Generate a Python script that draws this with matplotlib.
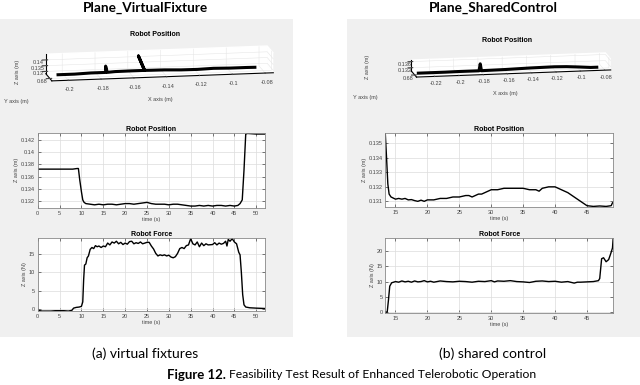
import numpy as np
import matplotlib
matplotlib.use('Agg')
import matplotlib.pyplot as plt
from matplotlib.patches import Rectangle
from mpl_toolkits.mplot3d import Axes3D  # noqa: F401

plt.rcParams['font.family'] = ['Liberation Sans', 'DejaVu Sans']

# --- (a) virtual fixtures: z position over time
vf_t = [0, 2, 4, 6, 8, 9, 9.3, 9.6, 10.0, 10.3, 10.6, 11, 12, 13, 14, 15, 16, 17, 18, 19,
        20, 21, 22, 23, 24, 25, 26, 27, 28, 29, 30, 31, 32, 33, 34, 35, 36, 37, 38, 39,
        40, 41, 42, 43, 44, 45, 45.8, 46.3, 46.8, 47.2, 47.6, 48, 50, 52]
vf_z = [0.1372, 0.1372, 0.1372, 0.1372, 0.1372, 0.1373, 0.1373, 0.1355, 0.1335, 0.1322,
        0.1318, 0.1316, 0.1315, 0.1314, 0.1315, 0.1314, 0.1315, 0.1315, 0.1314, 0.1315,
        0.1316, 0.1316, 0.1315, 0.1316, 0.1317, 0.1318, 0.1316, 0.1315, 0.1315, 0.1315,
        0.1314, 0.1315, 0.1315, 0.1314, 0.1313, 0.1312, 0.1312, 0.1313, 0.1312, 0.1313,
        0.1312, 0.1313, 0.1313, 0.1312, 0.1313, 0.1312, 0.1313, 0.1316, 0.1322, 0.1370,
        0.1429, 0.1430, 0.1429, 0.1429]

# --- (a) virtual fixtures: z force over time
vf_ft = [0, 0.5, 1, 2, 3, 4, 5, 6, 7, 7.8, 8.2, 8.8, 9.5, 10.0, 10.3, 10.5, 10.7, 11.0,
         11.3, 11.6, 12.0, 12.4, 12.8, 13.2, 13.6, 14, 14.5, 15, 15.5, 16, 16.5, 17, 17.5,
         18, 18.5, 19, 19.5, 20, 20.5, 21, 21.5, 22, 22.5, 23, 23.5, 24, 24.5, 25, 25.5,
         26, 26.5, 27, 27.5, 28, 28.5, 29, 29.5, 30, 30.5, 31, 31.5, 32, 32.5, 33, 33.5,
         34, 34.5, 35, 35.5, 36, 36.5, 37, 37.5, 38, 38.5, 39, 40, 40.5, 41, 41.5, 42,
         42.5, 43, 43.3, 43.6, 44, 44.5, 45, 45.5, 46, 46.3, 46.6, 46.9, 47.2, 47.6, 48.5,
         50, 52]
vf_f = [-0.2, -0.4, -0.5, -0.5, -0.5, -0.4, -0.4, -0.4, -0.5, -0.3, 0.3, 0.5, 0.6, 0.8,
        2, 8, 12, 12.3, 14, 14.5, 16.3, 16.8, 16.5, 17.3, 17.0, 17.2, 16.8, 17.2, 17.0,
        18.0, 17.5, 18.3, 18.0, 18.5, 17.8, 18.2, 17.6, 18.0, 17.7, 18.4, 18.5, 17.8, 18.1,
        17.9, 18.3, 17.8, 18.0, 18.2, 18.2, 17.2, 16.4, 15.2, 14.5, 14.8, 14.6, 14.8, 14.5,
        14.7, 14.2, 14.0, 14.3, 15.2, 16.5, 16.8, 16.5, 17.3, 17.5, 19.2, 17.8, 17.5, 18.3,
        17.0, 18.0, 17.3, 17.8, 17.5, 17.6, 18.1, 17.5, 18.0, 17.7, 17.9, 18.5, 17.2, 19.0,
        18.5, 19.2, 18.3, 17.8, 15.5, 14.8, 10, 4, 1.2, 0.6, 0.4, 0.3, 0.2]

# --- (b) shared control: z position over time
sc_t = [13.4, 13.6, 13.8, 14.0, 14.3, 15, 15.5, 16, 16.5, 17, 17.5, 18, 18.5, 19, 19.5,
        20, 21, 22, 23, 24, 25, 26, 26.5, 27, 27.5, 28, 28.5, 29, 30, 31, 32, 33, 34, 35,
        36, 37, 37.5, 38, 39, 40, 40.5, 41, 42, 43, 44, 45, 46, 47, 48, 48.8, 49.0]
sc_z = [0.1357, 0.1340, 0.1322, 0.1315, 0.1313, 0.13115, 0.1312, 0.13115, 0.1312, 0.1311,
        0.13112, 0.13105, 0.1310, 0.13108, 0.1310, 0.1311, 0.1311, 0.1312, 0.1312, 0.1313,
        0.1313, 0.1314, 0.1314, 0.1313, 0.1314, 0.1315, 0.1315, 0.1316, 0.1318, 0.1318,
        0.1319, 0.1319, 0.1319, 0.1319, 0.1318, 0.1318, 0.1317, 0.1319, 0.1320, 0.1320,
        0.1319, 0.1318, 0.1316, 0.1313, 0.1310, 0.1307, 0.13065, 0.13068, 0.13065, 0.1307,
        0.1309]

# --- (b) shared control: z force over time
sc_ft = [13.4, 13.7, 13.9, 14.1, 14.4, 15, 15.5, 16, 16.5, 17, 17.5, 18, 18.5, 19, 19.5,
         20, 20.5, 21, 22, 23, 24, 25, 26, 27, 28, 29, 30, 30.5, 31, 32, 33, 34, 35, 36,
         37, 38, 39, 40, 41, 42, 43, 43.5, 44, 45, 46, 46.8, 47.0, 47.3, 47.6, 48, 48.4,
         48.7, 49.0, 49.1]
sc_f = [0, 0, 4, 8.5, 9.6, 10.0, 9.8, 10.2, 9.9, 10.1, 9.8, 10.2, 9.9, 10.0, 10.3, 9.9,
        10.1, 9.8, 10.2, 10.0, 9.9, 10.1, 10.0, 9.8, 10.1, 10.0, 10.3, 9.9, 10.2, 10.1,
        10.3, 10.0, 9.9, 9.7, 10.1, 10.2, 10.0, 10.1, 9.8, 10.0, 9.5, 9.8, 9.8, 9.9, 10.0,
        10.3, 11, 17.5, 17.8, 16.5, 17.2, 19, 21, 24]

# --- 3D trajectories (x, y, z)
vf_x3 = [-0.205, -0.195, -0.185, -0.178, -0.176, -0.176, -0.175, -0.17, -0.16, -0.152,
         -0.155, -0.152, -0.148, -0.14, -0.13, -0.12, -0.11, -0.10, -0.09, -0.085]
vf_y3 = [0.680, 0.680, 0.680, 0.680, 0.680, 0.680, 0.680, 0.681, 0.681, 0.681,
         0.684, 0.681, 0.681, 0.681, 0.680, 0.680, 0.681, 0.680, 0.680, 0.680]
vf_z3 = [0.131, 0.131, 0.1315, 0.1315, 0.1315, 0.137, 0.1315, 0.1315, 0.1316, 0.1316,
         0.143, 0.1316, 0.1315, 0.1314, 0.1313, 0.1312, 0.1312, 0.1313, 0.1313, 0.1312]

sc_x3 = [-0.232, -0.22, -0.21, -0.2, -0.19, -0.182, -0.181, -0.180, -0.17, -0.16, -0.15,
         -0.14, -0.13, -0.12, -0.11, -0.1, -0.09, -0.085]
sc_y3 = [0.680] * 18
sc_z3 = [0.1311, 0.1311, 0.1311, 0.1312, 0.1312, 0.1312, 0.1357, 0.1312, 0.1313, 0.1314,
         0.1316, 0.1318, 0.1319, 0.1320, 0.1318, 0.1313, 0.1307, 0.1307]

GREY = '#f0f0f0'
TXT = '#444444'
TICK_FS = 4
TITLE_FS = 5


def style_2d(ax):
    ax.grid(True, color='#dcdcdc', linewidth=0.5)
    ax.tick_params(direction='in', top=True, right=True, length=2, width=0.5,
                   labelsize=TICK_FS, colors=TXT, pad=2)
    for s in ax.spines.values():
        s.set_color('#888888')
        s.set_linewidth(0.6)
    ax.set_facecolor('white')


def panel_2d(ax, t, y, xlim, ylim, xticks, yticks, ylabel, title, fmt=None):
    ax.plot(t, y, color='black', linewidth=1.0)
    ax.set_xlim(*xlim)
    ax.set_ylim(*ylim)
    ax.set_xticks(xticks)
    ax.set_yticks(yticks)
    if fmt:
        ax.set_yticklabels([fmt(v) for v in yticks])
    ax.set_xlabel('time (s)', fontsize=TICK_FS, labelpad=1, color=TXT)
    ax.set_ylabel(ylabel, fontsize=TICK_FS, labelpad=1, color=TXT)
    ax.set_title(title, fontsize=TITLE_FS, fontweight='bold', pad=1.5)
    style_2d(ax)


def panel_3d(ax, x, y, z, xticks, zticks, xlim, ylim, zlim, elev, azim, aspect, zoom):
    ax.set_proj_type('ortho')
    line, = ax.plot(x, y, z, color='black', linewidth=2.2)
    line.set_clip_on(False)
    ax.set_xlim(*xlim)
    ax.set_ylim(*ylim)
    ax.set_zlim(*zlim)
    ax.set_xticks(xticks)
    ax.set_xticklabels([f'{v:g}' for v in xticks])
    ax.set_yticks([0.68])
    ax.set_yticklabels(['0.68'])
    ax.set_zticks(zticks)
    ax.set_zticklabels([f'{v:g}' for v in zticks])
    ax.set_box_aspect(aspect, zoom=zoom)
    ax.view_init(elev=elev, azim=azim)
    ax.xaxis.set_tick_params(labelsize=TICK_FS, pad=-2, colors=TXT)
    ax.yaxis.set_tick_params(labelsize=TICK_FS, pad=-7.2, colors=TXT)
    ax.zaxis.set_tick_params(labelsize=TICK_FS, pad=-7.2, colors=TXT)
    for axis in (ax.xaxis, ax.yaxis, ax.zaxis):
        axis.set_pane_color((1, 1, 1, 1))
        axis._axinfo['grid']['color'] = '#e6e6e6'
        axis._axinfo['grid']['linewidth'] = 0.4
        axis._axinfo['axisline']['color'] = '#888888'
        axis._axinfo['axisline']['linewidth'] = 0.5
    ax.set_facecolor('none')


fig = plt.figure(figsize=(6.4, 3.85), dpi=100)
fig.patches.append(Rectangle((0, 0.125), 0.458, 0.826, transform=fig.transFigure,
                             facecolor=GREY, edgecolor='none', zorder=-10))
fig.patches.append(Rectangle((0.542, 0.125), 0.458, 0.826, transform=fig.transFigure,
                             facecolor=GREY, edgecolor='none', zorder=-10))

# 3D panels
ax3a = fig.add_axes([0.068, 0.753, 0.36, 0.16], projection='3d')
panel_3d(ax3a, vf_x3, vf_y3, vf_z3, [-0.2, -0.18, -0.16, -0.14, -0.12, -0.1, -0.08],
         [0.13, 0.135, 0.14], (-0.21, -0.075), (0.675, 0.69), (0.128, 0.145),
         12, -100, (9, 1.4, 0.8), 3.6)
ax3b = fig.add_axes([0.617, 0.749, 0.36, 0.16], projection='3d')
panel_3d(ax3b, sc_x3, sc_y3, sc_z3, [-0.22, -0.2, -0.18, -0.16, -0.14, -0.12, -0.1, -0.08],
         [0.132, 0.136], (-0.235, -0.075), (0.675, 0.69), (0.130, 0.137),
         12, -100, (9, 1.4, 0.5), 3.15)

# 3D panel titles and axis names
for cx, ty, xl, yl, zl in [(155, 34, (160, 100), (16, 102), (17, 72)),
                           (507, 41, (505, 93), (365, 97), (367, 67))]:
    fig.text(cx / 640, 1 - ty / 385, 'Robot Position', ha='center', va='center',
             fontsize=TITLE_FS, fontweight='bold')
    fig.text(xl[0] / 640, 1 - xl[1] / 385, 'X axis (m)', ha='center', va='center',
             fontsize=TICK_FS, color=TXT)
    fig.text(yl[0] / 640, 1 - yl[1] / 385, 'Y axis (m)', ha='center', va='center',
             fontsize=TICK_FS, color=TXT)
    fig.text(zl[0] / 640, 1 - zl[1] / 385, 'Z axis (m)', ha='center', va='center',
             fontsize=TICK_FS, color=TXT, rotation=90)

# 2D panels
ax_a1 = fig.add_axes([0.059, 0.460, 0.355, 0.195])
panel_2d(ax_a1, vf_t, vf_z, (0, 52), (0.1309, 0.1431), range(0, 55, 5),
         [0.132, 0.134, 0.136, 0.138, 0.14, 0.142], 'Z axis (m)', 'Robot Position',
         fmt=lambda v: f'{v:g}')
ax_a2 = fig.add_axes([0.059, 0.192, 0.355, 0.190])
panel_2d(ax_a2, vf_ft, vf_f, (0, 52), (-0.5, 19.4), range(0, 55, 5),
         [0, 5, 10, 15], 'Z axis (N)', 'Robot Force')
ax_b1 = fig.add_axes([0.602, 0.462, 0.356, 0.192])
panel_2d(ax_b1, sc_t, sc_z, (13.4, 49.1), (0.1306, 0.1357), range(15, 50, 5),
         [0.131, 0.132, 0.133, 0.134, 0.135], 'Z axis (m)', 'Robot Position',
         fmt=lambda v: f'{v:g}')
ax_b2 = fig.add_axes([0.602, 0.187, 0.356, 0.195])
panel_2d(ax_b2, sc_ft, sc_f, (13.4, 49.1), (-0.3, 24.3), range(15, 50, 5),
         [0, 5, 10, 15, 20], 'Z axis (N)', 'Robot Force')

# headings and captions
cap = dict(family=['Lato', 'DejaVu Sans'])
fig.text(145 / 640, 1 - 8 / 385, 'Plane_VirtualFixture', ha='center', va='center',
         fontsize=9.8, fontweight='bold', **cap)
fig.text(493 / 640, 1 - 8 / 385, 'Plane_SharedControl', ha='center', va='center',
         fontsize=9.8, fontweight='bold', **cap)
fig.text(145 / 640, 1 - 354 / 385, '(a) virtual fixtures', ha='center', va='center',
         fontsize=10, **cap)
fig.text(493 / 640, 1 - 354 / 385, '(b) shared control', ha='center', va='center',
         fontsize=10, **cap)
fig.text(226 / 640, 1 - 375 / 385, 'Figure 12.', ha='right', va='center',
         fontsize=9.5, fontweight='bold', **cap)
fig.text(229 / 640, 1 - 375 / 385, 'Feasibility Test Result of Enhanced Telerobotic Operation',
         ha='left', va='center', fontsize=8.7, **cap)

fig.savefig('out.png', dpi=100, facecolor='white')
